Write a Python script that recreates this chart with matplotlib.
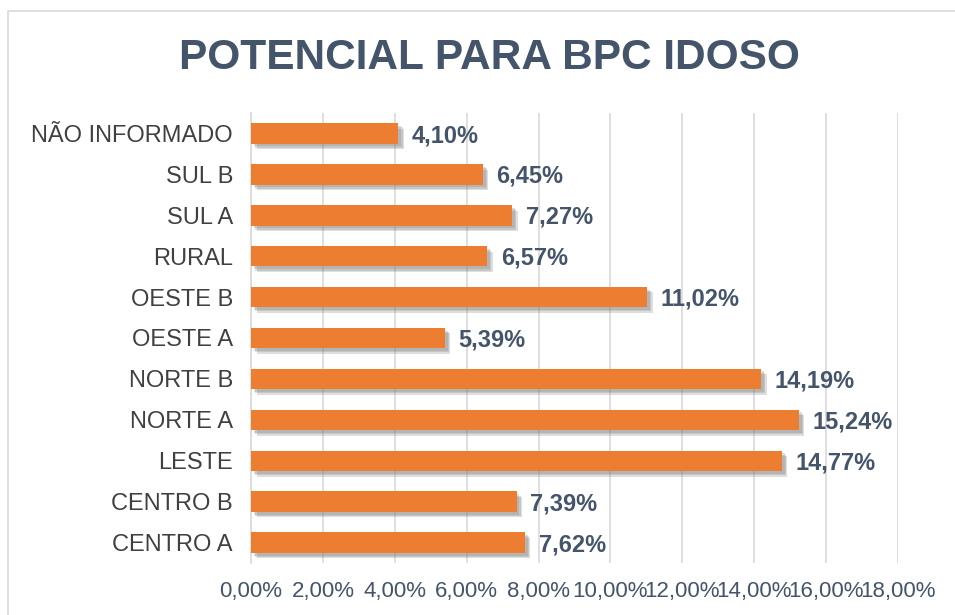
import matplotlib.pyplot as plt
import matplotlib.patheffects as pe
from matplotlib.patches import Rectangle

# data (top to bottom in the chart)
regioes = ["NÃO INFORMADO", "SUL B", "SUL A", "RURAL", "OESTE B", "OESTE A",
           "NORTE B", "NORTE A", "LESTE", "CENTRO B", "CENTRO A"]
valores = [4.10, 6.45, 7.27, 6.57, 11.02, 5.39, 14.19, 15.24, 14.77, 7.39, 7.62]
ticks_x = [0, 2, 4, 6, 8, 10, 12, 14, 16, 18]

plt.rcParams["font.family"] = ["Liberation Sans", "DejaVu Sans"]

fig = plt.figure(figsize=(9.55, 6.15), dpi=100)
fig.patches.append(Rectangle((8 / 955, -0.1), 2, 1.1 - 11 / 615, transform=fig.transFigure,
                             fill=False, ec="#D9D9D9", lw=1.2))
ax = fig.add_axes([251 / 955, 52 / 615, (898 - 251) / 955, 450 / 615])

y = list(range(len(regioes)))[::-1]
bars = ax.barh(y, valores, height=0.5, color="#ED7D31", zorder=3)
# soft drop shadow
shadow = [pe.SimplePatchShadow(offset=(o, -o), shadow_rgbFace="#7F7F7F", alpha=0.25)
          for o in (4, 3, 2)]
for b in bars:
    b.set_path_effects(shadow + [pe.Normal()])

for yi, v in zip(y, valores):
    ax.text(v + 0.38, yi - 0.05, f"{v:.2f}%".replace(".", ","), va="center", ha="left",
            fontsize=17, fontweight="bold", color="#44546A", zorder=4)

ax.set_xlim(0, 18)
ax.set_ylim(-0.5, len(regioes) - 0.5)
ax.set_xticks(ticks_x)
ax.set_xticklabels([f"{t:.2f}%".replace(".", ",") for t in ticks_x], fontsize=16, color="#44546A")
ax.set_yticks(y)
ax.set_yticklabels(regioes, fontsize=17, color="#404040")
ax.tick_params(length=0, pad=13)
ax.tick_params(axis="y", pad=13)
ax.grid(axis="x", color="#D9D9D9", lw=1.2, zorder=0)
for s in ["top", "right", "bottom"]:
    ax.spines[s].set_visible(False)
ax.spines["left"].set_color("#D9D9D9")
ax.spines["left"].set_linewidth(1.2)

fig.text(489 / 955, 1 - 58 / 615, "POTENCIAL PARA BPC IDOSO", ha="center", va="center",
         fontsize=30.5, fontweight="bold", color="#44546A")

fig.savefig("out.png", dpi=100)
